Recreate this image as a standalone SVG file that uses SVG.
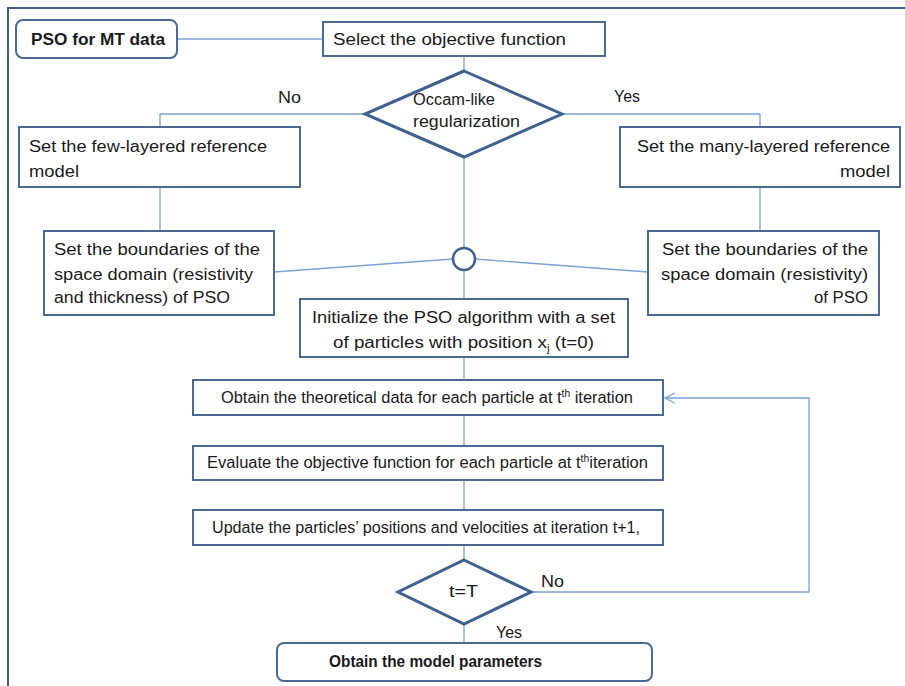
<svg xmlns="http://www.w3.org/2000/svg" width="905" height="686" viewBox="0 0 905 686">
<style>
text{font-family:"Liberation Sans",Arial,sans-serif;font-size:16px;fill:#1a1a1a}
.b{font-weight:bold}
.box{fill:#fff;stroke:#4a6a96;stroke-width:2}
.dia{fill:#fff;stroke:#3f6190;stroke-width:3}
.con{fill:none;stroke:#7aa2d4;stroke-width:1.3}
.sup{font-size:10px}
</style>
<defs>
<marker id="arr" viewBox="0 0 12 12" refX="11" refY="6" markerWidth="12" markerHeight="12" markerUnits="userSpaceOnUse" orient="auto">
<path d="M1,1 L11,6 L1,11" fill="none" stroke="#7aa2d4" stroke-width="1.3"/>
</marker>
</defs>
<rect width="905" height="686" fill="#fff"/>
<path d="M8,686 V8 H905" fill="none" stroke="#3f5f8c" stroke-width="2"/>
<g id="connectors">
<path class="con" d="M177,39 H323"/>
<path class="con" d="M464,56 V71"/>
<path class="con" d="M365,114 H160 V127"/>
<path class="con" d="M562,114 H760 V127"/>
<path class="con" d="M160,187 V231"/>
<path class="con" d="M760,187 V231"/>
<path class="con" d="M464,157 V248"/>
<path class="con" d="M274,272 L453,259"/>
<path class="con" d="M475,259 L648,272"/>
<path class="con" d="M464,270 V299"/>
<path class="con" d="M464,357 V380"/>
<path class="con" d="M464,415 V446"/>
<path class="con" d="M464,480 V510"/>
<path class="con" d="M464,545 V560"/>
<path class="con" d="M531,592 H809 V398 H665" marker-end="url(#arr)"/>
<path class="con" d="M464,624 V643"/>
<text x="278" y="103" textLength="23" lengthAdjust="spacingAndGlyphs">No</text>
<text x="614" y="102" textLength="26" lengthAdjust="spacingAndGlyphs">Yes</text>
<text x="541" y="587" textLength="23" lengthAdjust="spacingAndGlyphs">No</text>
<text x="496" y="638" textLength="26" lengthAdjust="spacingAndGlyphs">Yes</text>
</g>
<g id="start">
<rect class="box" x="16" y="20" width="161" height="38" rx="7"/>
<text class="b" x="31" y="45" textLength="134" lengthAdjust="spacingAndGlyphs">PSO for MT data</text>
</g>
<g id="select">
<rect class="box" x="323" y="22" width="282" height="34"/>
<text x="333" y="45" textLength="233" lengthAdjust="spacingAndGlyphs">Select the objective function</text>
</g>
<g id="occam">
<polygon class="dia" points="464,71 562,114 464,157 365,114"/>
<text x="413" y="105" textLength="82" lengthAdjust="spacingAndGlyphs">Occam-like</text>
<text x="413" y="127" textLength="107" lengthAdjust="spacingAndGlyphs">regularization</text>
</g>
<g id="few">
<rect class="box" x="19" y="127" width="281" height="60"/>
<text x="29" y="152" textLength="238" lengthAdjust="spacingAndGlyphs">Set the few-layered reference</text>
<text x="29" y="177" textLength="50" lengthAdjust="spacingAndGlyphs">model</text>
</g>
<g id="many">
<rect class="box" x="620" y="127" width="280" height="60"/>
<text x="637" y="152" textLength="253" lengthAdjust="spacingAndGlyphs">Set the many-layered reference</text>
<text x="840" y="177" textLength="50" lengthAdjust="spacingAndGlyphs">model</text>
</g>
<g id="bound-left">
<rect class="box" x="44" y="231" width="230" height="84"/>
<text x="54" y="255" textLength="206" lengthAdjust="spacingAndGlyphs">Set the boundaries of the</text>
<text x="54" y="280" textLength="199" lengthAdjust="spacingAndGlyphs">space domain (resistivity</text>
<text x="54" y="303" textLength="176" lengthAdjust="spacingAndGlyphs">and thickness) of PSO</text>
</g>
<g id="bound-right">
<rect class="box" x="648" y="231" width="231" height="84"/>
<text x="662" y="255" textLength="206" lengthAdjust="spacingAndGlyphs">Set the boundaries of the</text>
<text x="661" y="280" textLength="207" lengthAdjust="spacingAndGlyphs">space domain (resistivity)</text>
<text x="814" y="303" textLength="54" lengthAdjust="spacingAndGlyphs">of PSO</text>
</g>
<g id="merge">
<circle cx="464" cy="259" r="11" fill="#fff" stroke="#3f6190" stroke-width="2.5"/>
</g>
<g id="init">
<rect class="box" x="300" y="299" width="328" height="58"/>
<text x="312" y="323" textLength="303" lengthAdjust="spacingAndGlyphs">Initialize the PSO algorithm with a set</text>
<text x="333" y="348" textLength="261" lengthAdjust="spacingAndGlyphs">of particles with position x<tspan class="sup" dy="4">j</tspan><tspan dy="-4"> (t=0)</tspan></text>
</g>
<g id="obtain">
<rect class="box" x="193" y="380" width="470" height="35"/>
<text x="221" y="403" textLength="412" lengthAdjust="spacingAndGlyphs">Obtain the theoretical data for each particle at t<tspan class="sup" dy="-6">th</tspan><tspan dy="6"> iteration</tspan></text>
</g>
<g id="evaluate">
<rect class="box" x="193" y="446" width="470" height="34"/>
<text x="207" y="468" textLength="441" lengthAdjust="spacingAndGlyphs">Evaluate the objective function for each particle at t<tspan class="sup" dy="-6">th</tspan><tspan dy="6">iteration</tspan></text>
</g>
<g id="update">
<rect class="box" x="193" y="510" width="470" height="35"/>
<text x="212" y="533" textLength="428" lengthAdjust="spacingAndGlyphs">Update the particles’ positions and velocities at iteration t+1,</text>
</g>
<g id="check">
<polygon class="dia" points="464,560 531,592 464,624 398,592"/>
<text x="449" y="597" textLength="29" lengthAdjust="spacingAndGlyphs">t=T</text>
</g>
<g id="end">
<rect class="box" x="277" y="643" width="375" height="38" rx="7"/>
<text class="b" x="329" y="667" textLength="213" lengthAdjust="spacingAndGlyphs">Obtain the model parameters</text>
</g>
</svg>
